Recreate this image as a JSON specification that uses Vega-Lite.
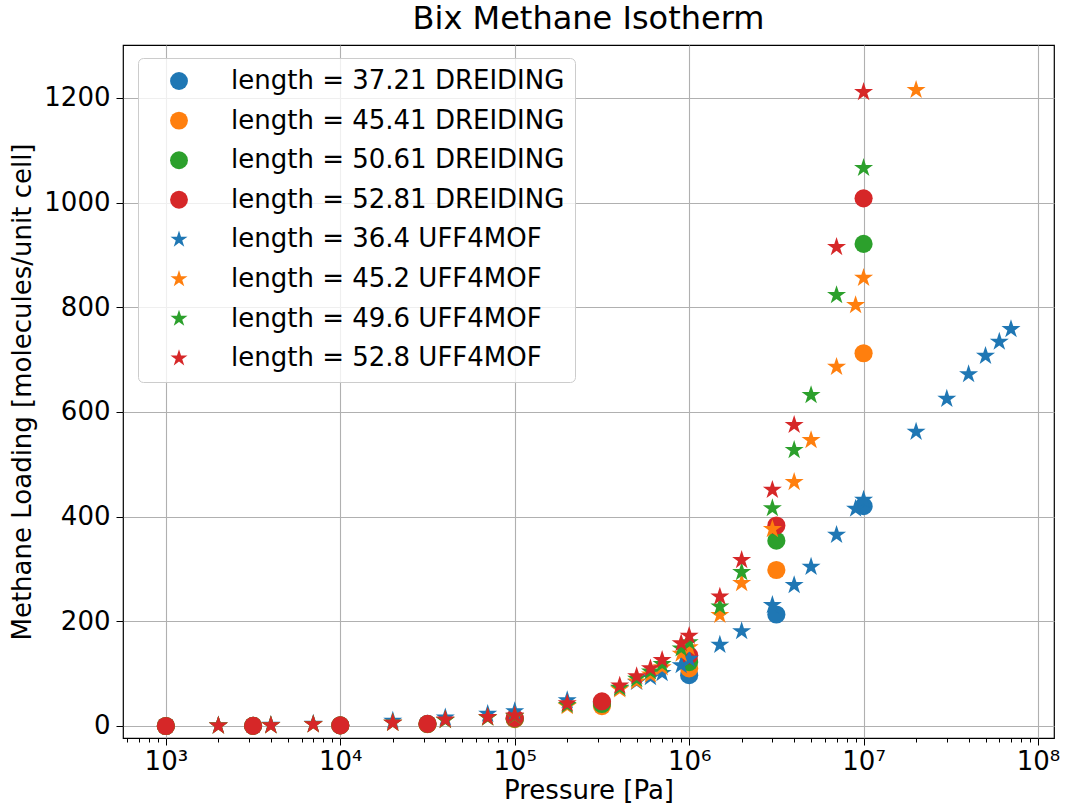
{
  "$schema": "https://vega.github.io/schema/vega-lite/v6.json",
  "width": 931,
  "height": 693,
  "autosize": {"type": "none"},
  "padding": {"left": 123, "top": 45, "right": 11, "bottom": 70},
  "background": "white",
  "title": {"text": "Bix Methane Isotherm", "fontSize": 32, "font": "DejaVu Sans", "fontWeight": "normal", "color": "black", "anchor": "middle", "offset": 9},
  "config": {
    "view": {"stroke": "black", "strokeWidth": 1.2},
    "axis": {"labelFont": "DejaVu Sans", "titleFont": "DejaVu Sans", "labelFontSize": 26, "titleFontSize": 26, "titleFontWeight": "normal", "labelColor": "black", "titleColor": "black", "tickColor": "black", "domain": false, "gridColor": "#b0b0b0", "gridWidth": 1.1}
  },
  "data": {"values": [
    {"p": 1000, "v": 0, "s": "length = 37.21 DREIDING", "ff": "DREIDING"},
    {"p": 3162.28, "v": 0.3, "s": "length = 37.21 DREIDING", "ff": "DREIDING"},
    {"p": 10000, "v": 1, "s": "length = 37.21 DREIDING", "ff": "DREIDING"},
    {"p": 31622.8, "v": 4, "s": "length = 37.21 DREIDING", "ff": "DREIDING"},
    {"p": 100000, "v": 14, "s": "length = 37.21 DREIDING", "ff": "DREIDING"},
    {"p": 316228, "v": 45, "s": "length = 37.21 DREIDING", "ff": "DREIDING"},
    {"p": 1000000, "v": 97, "s": "length = 37.21 DREIDING", "ff": "DREIDING"},
    {"p": 3162278, "v": 213, "s": "length = 37.21 DREIDING", "ff": "DREIDING"},
    {"p": 10000000, "v": 420, "s": "length = 37.21 DREIDING", "ff": "DREIDING"},
    {"p": 1000, "v": 0, "s": "length = 45.41 DREIDING", "ff": "DREIDING"},
    {"p": 3162.28, "v": 0.3, "s": "length = 45.41 DREIDING", "ff": "DREIDING"},
    {"p": 10000, "v": 1, "s": "length = 45.41 DREIDING", "ff": "DREIDING"},
    {"p": 31622.8, "v": 3.5, "s": "length = 45.41 DREIDING", "ff": "DREIDING"},
    {"p": 100000, "v": 13, "s": "length = 45.41 DREIDING", "ff": "DREIDING"},
    {"p": 316228, "v": 38, "s": "length = 45.41 DREIDING", "ff": "DREIDING"},
    {"p": 1000000, "v": 110, "s": "length = 45.41 DREIDING", "ff": "DREIDING"},
    {"p": 3162278, "v": 298, "s": "length = 45.41 DREIDING", "ff": "DREIDING"},
    {"p": 10000000, "v": 712, "s": "length = 45.41 DREIDING", "ff": "DREIDING"},
    {"p": 1000, "v": 0, "s": "length = 50.61 DREIDING", "ff": "DREIDING"},
    {"p": 3162.28, "v": 0.3, "s": "length = 50.61 DREIDING", "ff": "DREIDING"},
    {"p": 10000, "v": 1, "s": "length = 50.61 DREIDING", "ff": "DREIDING"},
    {"p": 31622.8, "v": 3.7, "s": "length = 50.61 DREIDING", "ff": "DREIDING"},
    {"p": 100000, "v": 14, "s": "length = 50.61 DREIDING", "ff": "DREIDING"},
    {"p": 316228, "v": 42, "s": "length = 50.61 DREIDING", "ff": "DREIDING"},
    {"p": 1000000, "v": 122, "s": "length = 50.61 DREIDING", "ff": "DREIDING"},
    {"p": 3162278, "v": 354, "s": "length = 50.61 DREIDING", "ff": "DREIDING"},
    {"p": 10000000, "v": 921, "s": "length = 50.61 DREIDING", "ff": "DREIDING"},
    {"p": 1000, "v": 0, "s": "length = 52.81 DREIDING", "ff": "DREIDING"},
    {"p": 3162.28, "v": 0.3, "s": "length = 52.81 DREIDING", "ff": "DREIDING"},
    {"p": 10000, "v": 1, "s": "length = 52.81 DREIDING", "ff": "DREIDING"},
    {"p": 31622.8, "v": 4, "s": "length = 52.81 DREIDING", "ff": "DREIDING"},
    {"p": 100000, "v": 15, "s": "length = 52.81 DREIDING", "ff": "DREIDING"},
    {"p": 316228, "v": 47, "s": "length = 52.81 DREIDING", "ff": "DREIDING"},
    {"p": 1000000, "v": 135, "s": "length = 52.81 DREIDING", "ff": "DREIDING"},
    {"p": 3162278, "v": 383, "s": "length = 52.81 DREIDING", "ff": "DREIDING"},
    {"p": 10000000, "v": 1008, "s": "length = 52.81 DREIDING", "ff": "DREIDING"},

    {"p": 2000, "v": 1, "s": "length = 36.4 UFF4MOF", "ff": "UFF4MOF"},
    {"p": 4000, "v": 2, "s": "length = 36.4 UFF4MOF", "ff": "UFF4MOF"},
    {"p": 7000, "v": 4, "s": "length = 36.4 UFF4MOF", "ff": "UFF4MOF"},
    {"p": 20000, "v": 10, "s": "length = 36.4 UFF4MOF", "ff": "UFF4MOF"},
    {"p": 40000, "v": 16, "s": "length = 36.4 UFF4MOF", "ff": "UFF4MOF"},
    {"p": 70000, "v": 23, "s": "length = 36.4 UFF4MOF", "ff": "UFF4MOF"},
    {"p": 100000, "v": 28, "s": "length = 36.4 UFF4MOF", "ff": "UFF4MOF"},
    {"p": 200000, "v": 49, "s": "length = 36.4 UFF4MOF", "ff": "UFF4MOF"},
    {"p": 400000, "v": 72, "s": "length = 36.4 UFF4MOF", "ff": "UFF4MOF"},
    {"p": 500000, "v": 84, "s": "length = 36.4 UFF4MOF", "ff": "UFF4MOF"},
    {"p": 600000, "v": 93, "s": "length = 36.4 UFF4MOF", "ff": "UFF4MOF"},
    {"p": 700000, "v": 101, "s": "length = 36.4 UFF4MOF", "ff": "UFF4MOF"},
    {"p": 900000, "v": 116, "s": "length = 36.4 UFF4MOF", "ff": "UFF4MOF"},
    {"p": 1000000, "v": 128, "s": "length = 36.4 UFF4MOF", "ff": "UFF4MOF"},
    {"p": 1500000, "v": 155, "s": "length = 36.4 UFF4MOF", "ff": "UFF4MOF"},
    {"p": 2000000, "v": 181, "s": "length = 36.4 UFF4MOF", "ff": "UFF4MOF"},
    {"p": 3000000, "v": 231, "s": "length = 36.4 UFF4MOF", "ff": "UFF4MOF"},
    {"p": 4000000, "v": 269, "s": "length = 36.4 UFF4MOF", "ff": "UFF4MOF"},
    {"p": 5000000, "v": 304, "s": "length = 36.4 UFF4MOF", "ff": "UFF4MOF"},
    {"p": 7000000, "v": 365, "s": "length = 36.4 UFF4MOF", "ff": "UFF4MOF"},
    {"p": 9000000, "v": 415, "s": "length = 36.4 UFF4MOF", "ff": "UFF4MOF"},
    {"p": 10000000, "v": 432, "s": "length = 36.4 UFF4MOF", "ff": "UFF4MOF"},
    {"p": 20000000, "v": 562, "s": "length = 36.4 UFF4MOF", "ff": "UFF4MOF"},
    {"p": 30000000, "v": 625, "s": "length = 36.4 UFF4MOF", "ff": "UFF4MOF"},
    {"p": 40000000, "v": 672, "s": "length = 36.4 UFF4MOF", "ff": "UFF4MOF"},
    {"p": 50000000, "v": 707, "s": "length = 36.4 UFF4MOF", "ff": "UFF4MOF"},
    {"p": 60000000, "v": 734, "s": "length = 36.4 UFF4MOF", "ff": "UFF4MOF"},
    {"p": 70000000, "v": 758, "s": "length = 36.4 UFF4MOF", "ff": "UFF4MOF"},

    {"p": 2000, "v": 0.5, "s": "length = 45.2 UFF4MOF", "ff": "UFF4MOF"},
    {"p": 4000, "v": 1, "s": "length = 45.2 UFF4MOF", "ff": "UFF4MOF"},
    {"p": 7000, "v": 3, "s": "length = 45.2 UFF4MOF", "ff": "UFF4MOF"},
    {"p": 20000, "v": 6, "s": "length = 45.2 UFF4MOF", "ff": "UFF4MOF"},
    {"p": 40000, "v": 11, "s": "length = 45.2 UFF4MOF", "ff": "UFF4MOF"},
    {"p": 70000, "v": 16, "s": "length = 45.2 UFF4MOF", "ff": "UFF4MOF"},
    {"p": 100000, "v": 19, "s": "length = 45.2 UFF4MOF", "ff": "UFF4MOF"},
    {"p": 200000, "v": 38, "s": "length = 45.2 UFF4MOF", "ff": "UFF4MOF"},
    {"p": 400000, "v": 70, "s": "length = 45.2 UFF4MOF", "ff": "UFF4MOF"},
    {"p": 500000, "v": 85, "s": "length = 45.2 UFF4MOF", "ff": "UFF4MOF"},
    {"p": 600000, "v": 98, "s": "length = 45.2 UFF4MOF", "ff": "UFF4MOF"},
    {"p": 700000, "v": 112, "s": "length = 45.2 UFF4MOF", "ff": "UFF4MOF"},
    {"p": 900000, "v": 138, "s": "length = 45.2 UFF4MOF", "ff": "UFF4MOF"},
    {"p": 1000000, "v": 150, "s": "length = 45.2 UFF4MOF", "ff": "UFF4MOF"},
    {"p": 1500000, "v": 212, "s": "length = 45.2 UFF4MOF", "ff": "UFF4MOF"},
    {"p": 2000000, "v": 273, "s": "length = 45.2 UFF4MOF", "ff": "UFF4MOF"},
    {"p": 3000000, "v": 376, "s": "length = 45.2 UFF4MOF", "ff": "UFF4MOF"},
    {"p": 4000000, "v": 466, "s": "length = 45.2 UFF4MOF", "ff": "UFF4MOF"},
    {"p": 5000000, "v": 546, "s": "length = 45.2 UFF4MOF", "ff": "UFF4MOF"},
    {"p": 7000000, "v": 686, "s": "length = 45.2 UFF4MOF", "ff": "UFF4MOF"},
    {"p": 9000000, "v": 804, "s": "length = 45.2 UFF4MOF", "ff": "UFF4MOF"},
    {"p": 10000000, "v": 856, "s": "length = 45.2 UFF4MOF", "ff": "UFF4MOF"},
    {"p": 20000000, "v": 1215, "s": "length = 45.2 UFF4MOF", "ff": "UFF4MOF"},

    {"p": 2000, "v": 0.5, "s": "length = 49.6 UFF4MOF", "ff": "UFF4MOF"},
    {"p": 4000, "v": 1, "s": "length = 49.6 UFF4MOF", "ff": "UFF4MOF"},
    {"p": 7000, "v": 3, "s": "length = 49.6 UFF4MOF", "ff": "UFF4MOF"},
    {"p": 20000, "v": 6, "s": "length = 49.6 UFF4MOF", "ff": "UFF4MOF"},
    {"p": 40000, "v": 11, "s": "length = 49.6 UFF4MOF", "ff": "UFF4MOF"},
    {"p": 70000, "v": 16, "s": "length = 49.6 UFF4MOF", "ff": "UFF4MOF"},
    {"p": 100000, "v": 19, "s": "length = 49.6 UFF4MOF", "ff": "UFF4MOF"},
    {"p": 200000, "v": 40, "s": "length = 49.6 UFF4MOF", "ff": "UFF4MOF"},
    {"p": 400000, "v": 73, "s": "length = 49.6 UFF4MOF", "ff": "UFF4MOF"},
    {"p": 500000, "v": 90, "s": "length = 49.6 UFF4MOF", "ff": "UFF4MOF"},
    {"p": 600000, "v": 104, "s": "length = 49.6 UFF4MOF", "ff": "UFF4MOF"},
    {"p": 700000, "v": 118, "s": "length = 49.6 UFF4MOF", "ff": "UFF4MOF"},
    {"p": 900000, "v": 148, "s": "length = 49.6 UFF4MOF", "ff": "UFF4MOF"},
    {"p": 1000000, "v": 160, "s": "length = 49.6 UFF4MOF", "ff": "UFF4MOF"},
    {"p": 1500000, "v": 228, "s": "length = 49.6 UFF4MOF", "ff": "UFF4MOF"},
    {"p": 2000000, "v": 294, "s": "length = 49.6 UFF4MOF", "ff": "UFF4MOF"},
    {"p": 3000000, "v": 416, "s": "length = 49.6 UFF4MOF", "ff": "UFF4MOF"},
    {"p": 4000000, "v": 527, "s": "length = 49.6 UFF4MOF", "ff": "UFF4MOF"},
    {"p": 5000000, "v": 632, "s": "length = 49.6 UFF4MOF", "ff": "UFF4MOF"},
    {"p": 7000000, "v": 823, "s": "length = 49.6 UFF4MOF", "ff": "UFF4MOF"},
    {"p": 10000000, "v": 1066, "s": "length = 49.6 UFF4MOF", "ff": "UFF4MOF"},

    {"p": 2000, "v": 0.5, "s": "length = 52.8 UFF4MOF", "ff": "UFF4MOF"},
    {"p": 4000, "v": 1, "s": "length = 52.8 UFF4MOF", "ff": "UFF4MOF"},
    {"p": 7000, "v": 3, "s": "length = 52.8 UFF4MOF", "ff": "UFF4MOF"},
    {"p": 20000, "v": 6, "s": "length = 52.8 UFF4MOF", "ff": "UFF4MOF"},
    {"p": 40000, "v": 12, "s": "length = 52.8 UFF4MOF", "ff": "UFF4MOF"},
    {"p": 70000, "v": 17, "s": "length = 52.8 UFF4MOF", "ff": "UFF4MOF"},
    {"p": 100000, "v": 20, "s": "length = 52.8 UFF4MOF", "ff": "UFF4MOF"},
    {"p": 200000, "v": 43, "s": "length = 52.8 UFF4MOF", "ff": "UFF4MOF"},
    {"p": 400000, "v": 77, "s": "length = 52.8 UFF4MOF", "ff": "UFF4MOF"},
    {"p": 500000, "v": 95, "s": "length = 52.8 UFF4MOF", "ff": "UFF4MOF"},
    {"p": 600000, "v": 110, "s": "length = 52.8 UFF4MOF", "ff": "UFF4MOF"},
    {"p": 700000, "v": 126, "s": "length = 52.8 UFF4MOF", "ff": "UFF4MOF"},
    {"p": 900000, "v": 158, "s": "length = 52.8 UFF4MOF", "ff": "UFF4MOF"},
    {"p": 1000000, "v": 172, "s": "length = 52.8 UFF4MOF", "ff": "UFF4MOF"},
    {"p": 1500000, "v": 247, "s": "length = 52.8 UFF4MOF", "ff": "UFF4MOF"},
    {"p": 2000000, "v": 317, "s": "length = 52.8 UFF4MOF", "ff": "UFF4MOF"},
    {"p": 3000000, "v": 451, "s": "length = 52.8 UFF4MOF", "ff": "UFF4MOF"},
    {"p": 4000000, "v": 575, "s": "length = 52.8 UFF4MOF", "ff": "UFF4MOF"},
    {"p": 7000000, "v": 915, "s": "length = 52.8 UFF4MOF", "ff": "UFF4MOF"},
    {"p": 10000000, "v": 1211, "s": "length = 52.8 UFF4MOF", "ff": "UFF4MOF"}
  ]},
  "encoding": {
    "x": {"field": "p", "type": "quantitative", "title": "Pressure [Pa]",
      "scale": {"type": "log", "domain": [568, 123500000], "nice": false},
      "axis": {
        "values": [600,700,800,900,1000,2000,3000,4000,5000,6000,7000,8000,9000,10000,20000,30000,40000,50000,60000,70000,80000,90000,100000,200000,300000,400000,500000,600000,700000,800000,900000,1000000,2000000,3000000,4000000,5000000,6000000,7000000,8000000,9000000,10000000,20000000,30000000,40000000,50000000,60000000,70000000,80000000,90000000,100000000],
        "labelExpr": "abs(log(datum.value)/LN10 - round(log(datum.value)/LN10)) < 0.001 ? '10' + ['⁰','¹','²','³','⁴','⁵','⁶','⁷','⁸','⁹'][round(log(datum.value)/LN10)] : ''",
        "tickSize": {"condition": {"test": "abs(log(datum.value)/LN10 - round(log(datum.value)/LN10)) < 0.001", "value": 7}, "value": 4},
        "gridOpacity": {"condition": {"test": "abs(log(datum.value)/LN10 - round(log(datum.value)/LN10)) < 0.001", "value": 1}, "value": 0},
        "grid": true, "labelPadding": 3, "titlePadding": 3, "labelFlush": false, "labelOverlap": false
      }
    },
    "y": {"field": "v", "type": "quantitative", "title": "Methane Loading [molecules/unit cell]",
      "scale": {"domain": [-23, 1301], "nice": false, "zero": false},
      "axis": {"values": [0,200,400,600,800,1000,1200], "grid": true, "tickSize": 7, "labelPadding": 6, "titlePadding": 8, "format": "d"}
    },
    "color": {"field": "s", "type": "nominal",
      "scale": {"domain": ["length = 37.21 DREIDING","length = 45.41 DREIDING","length = 50.61 DREIDING","length = 52.81 DREIDING","length = 36.4 UFF4MOF","length = 45.2 UFF4MOF","length = 49.6 UFF4MOF","length = 52.8 UFF4MOF"],
        "range": ["#1f77b4","#ff7f0e","#2ca02c","#d62728","#1f77b4","#ff7f0e","#2ca02c","#d62728"]},
      "legend": {"title": null, "orient": "none", "legendX": 15, "legendY": 13, "labelFont": "DejaVu Sans", "labelFontSize": 26, "labelColor": "black", "symbolSize": 320, "fillColor": "rgba(255,255,255,0.8)", "strokeColor": "#cccccc", "cornerRadius": 5, "padding": 10, "rowPadding": 13.6, "labelOffset": 39, "symbolOffset": 18, "labelLimit": 600}
    },
    "shape": {"field": "s", "type": "nominal",
      "scale": {"domain": ["length = 37.21 DREIDING","length = 45.41 DREIDING","length = 50.61 DREIDING","length = 52.81 DREIDING","length = 36.4 UFF4MOF","length = 45.2 UFF4MOF","length = 49.6 UFF4MOF","length = 52.8 UFF4MOF"],
        "range": ["circle","circle","circle","circle",
          "M0,-1L0.2245,-0.309L0.951,-0.309L0.3633,0.118L0.5878,0.809L0,0.382L-0.5878,0.809L-0.3633,0.118L-0.951,-0.309L-0.2245,-0.309Z",
          "M0,-1L0.2245,-0.309L0.951,-0.309L0.3633,0.118L0.5878,0.809L0,0.382L-0.5878,0.809L-0.3633,0.118L-0.951,-0.309L-0.2245,-0.309Z",
          "M0,-1L0.2245,-0.309L0.951,-0.309L0.3633,0.118L0.5878,0.809L0,0.382L-0.5878,0.809L-0.3633,0.118L-0.951,-0.309L-0.2245,-0.309Z",
          "M0,-1L0.2245,-0.309L0.951,-0.309L0.3633,0.118L0.5878,0.809L0,0.382L-0.5878,0.809L-0.3633,0.118L-0.951,-0.309L-0.2245,-0.309Z"]}
    }
  },
  "layer": [
    {"transform": [{"filter": "datum.ff == 'DREIDING'"}], "mark": {"type": "point", "filled": true, "opacity": 1, "size": 330}},
    {"transform": [{"filter": "datum.ff == 'UFF4MOF'"}], "mark": {"type": "point", "filled": true, "opacity": 1, "size": 400}}
  ]
}
